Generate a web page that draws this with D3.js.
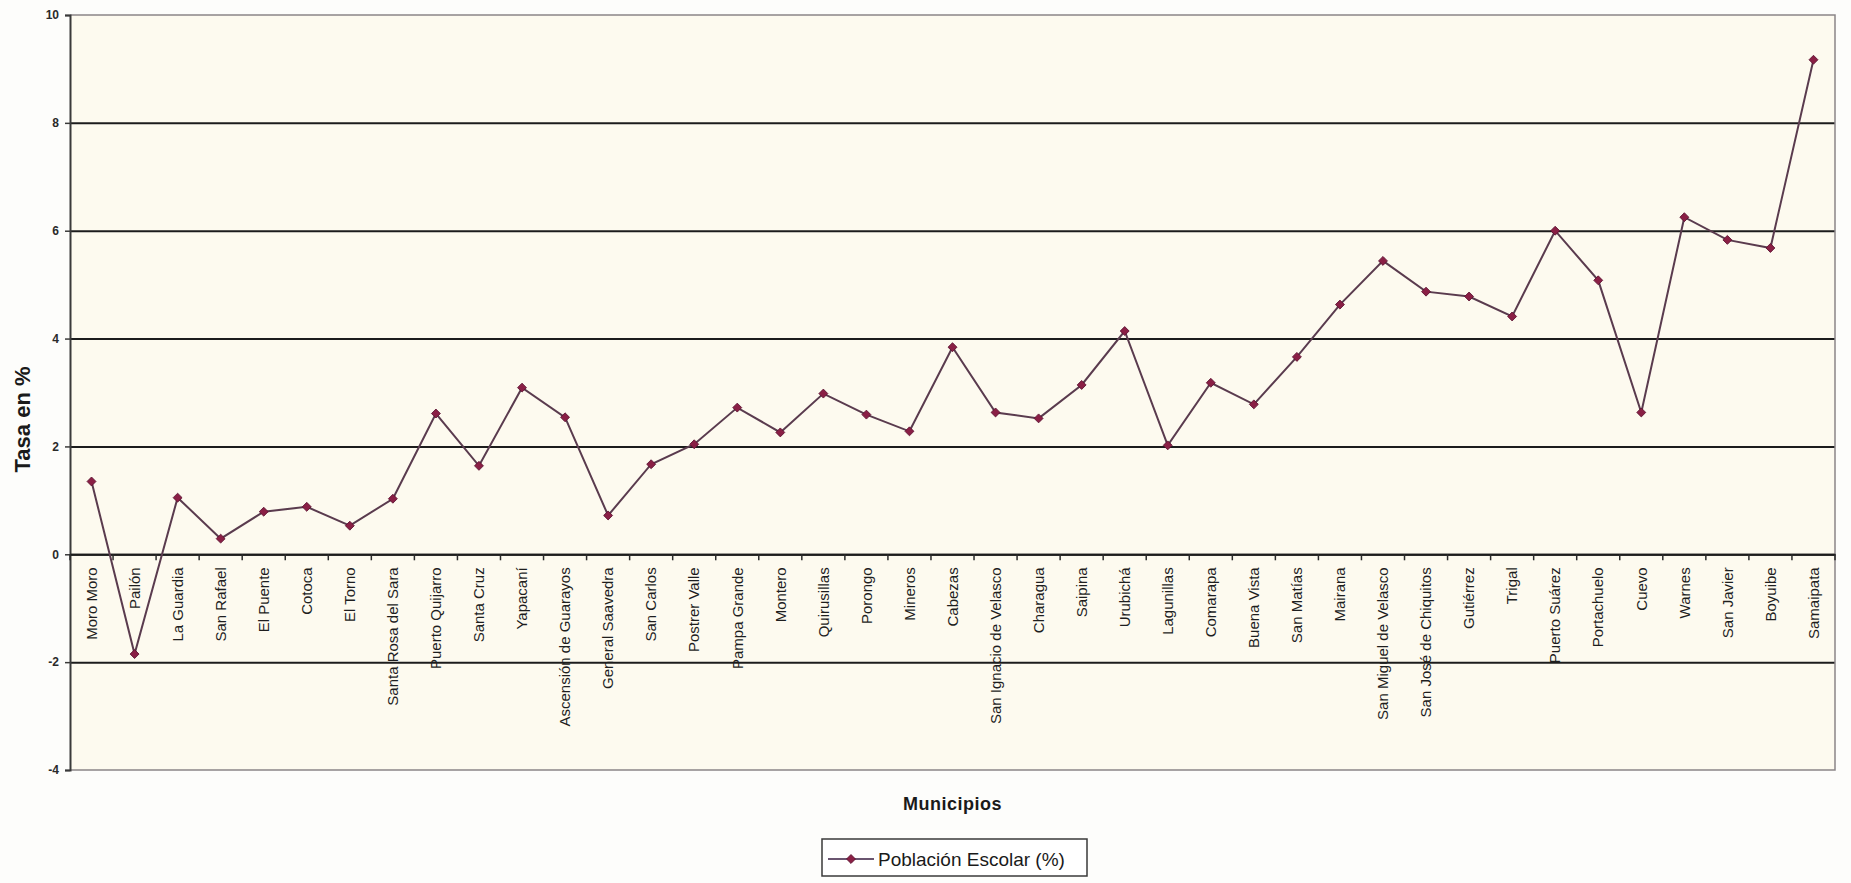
<!DOCTYPE html>
<html>
<head>
<meta charset="utf-8">
<script src="https://cdn.jsdelivr.net/npm/d3@7"></script>
<style>
  html, body { margin: 0; padding: 0; background: #fdfdfb; }
  svg { display: block; }
  text { font-family: "Liberation Sans", Arial, sans-serif; }
</style>
</head>
<body>
<svg id="chart" width="1851" height="883"></svg>
<script>
const categories = [
  "Moro Moro", "Pailón", "La Guardia", "San Rafael", "El Puente", "Cotoca", "El Torno",
  "Santa Rosa del Sara", "Puerto Quijarro", "Santa Cruz", "Yapacaní", "Ascensión de Guarayos",
  "General Saavedra", "San Carlos", "Postrer Valle", "Pampa Grande", "Montero", "Quirusillas",
  "Porongo", "Mineros", "Cabezas", "San Ignacio de Velasco", "Charagua", "Saipina", "Urubichá",
  "Lagunillas", "Comarapa", "Buena Vista", "San Matías", "Mairana", "San Miguel de Velasco",
  "San José de Chiquitos", "Gutiérrez", "Trigal", "Puerto Suárez", "Portachuelo", "Cuevo",
  "Warnes", "San Javier", "Boyuibe", "Samaipata"
];
const seriesName = "Población Escolar (%)";
const values = [
  1.35, -1.85, 1.05, 0.29, 0.79, 0.88, 0.53,
  1.03, 2.61, 1.64, 3.09, 2.54,
  0.72, 1.67, 2.04, 2.72, 2.26, 2.98,
  2.59, 2.28, 3.84, 2.63, 2.52, 3.14, 4.14,
  2.02, 3.18, 2.78, 3.66, 4.63, 5.44,
  4.87, 4.78, 4.41, 6.0, 5.08, 2.63,
  6.25, 5.83, 5.68, 9.17
];
const yTicks = [-4, -2, 0, 2, 4, 6, 8, 10];
const yTitle = "Tasa en %";
const xTitle = "Municipios";

const svg = d3.select("#chart");
const M = { left: 70, right: 1835, top: 15, bottom: 770 };

const x = d3.scaleBand().domain(categories).range([M.left, M.right]).paddingInner(0).paddingOuter(0);
const y = d3.scaleLinear().domain([-4, 10]).range([M.bottom, M.top]);
const bw = x.bandwidth();

// plot background
svg.append("rect")
  .attr("x", M.left).attr("y", M.top)
  .attr("width", M.right - M.left).attr("height", M.bottom - M.top)
  .attr("fill", "#fdfaef");

// gridlines
const grid = svg.append("g")
  .attr("transform", `translate(${M.left},0)`)
  .call(d3.axisRight(y).tickValues(yTicks.filter(t => t > -4 && t < 10)).tickSize(M.right - M.left).tickFormat(""));
grid.select(".domain").remove();
grid.selectAll(".tick line").attr("stroke", "#1c1c1c").attr("stroke-width", 2);

// plot border (top, right, bottom)
svg.append("path")
  .attr("d", `M${M.left},${M.top}H${M.right}V${M.bottom}H${M.left}`)
  .attr("fill", "none").attr("stroke", "#8a8588").attr("stroke-width", 1.5);

// y axis
const yAxis = svg.append("g")
  .attr("transform", `translate(${M.left},0)`)
  .call(d3.axisLeft(y).tickValues(yTicks).tickSize(5).tickPadding(6).tickFormat(d => String(d)));
yAxis.select(".domain").attr("stroke", "#3a3a3a").attr("stroke-width", 2);
yAxis.selectAll(".tick line").attr("stroke", "#3a3a3a").attr("stroke-width", 1.5);
yAxis.selectAll(".tick text")
  .attr("font-size", 12).attr("fill", "#2a2a2a").attr("font-weight", "bold");

// x axis at zero
const xAxis = svg.append("g")
  .attr("transform", `translate(0,${y(0)})`)
  .call(d3.axisBottom(x).tickSize(0).tickPadding(0));
xAxis.select(".domain").attr("stroke", "#1c1c1c").attr("stroke-width", 2);
xAxis.selectAll(".tick text")
  .attr("transform", "rotate(-90)")
  .attr("text-anchor", "end")
  .attr("x", -13).attr("y", 0).attr("dy", "0.35em")
  .attr("font-size", 15).attr("fill", "#1e1e1e");

// category boundary tick marks
const bounds = categories.map(c => x(c)).concat([x(categories[categories.length - 1]) + bw]);
svg.append("g").selectAll("line").data(bounds).join("line")
  .attr("x1", d => d).attr("x2", d => d)
  .attr("y1", y(0)).attr("y2", y(0) + 6)
  .attr("stroke", "#2a2a2a").attr("stroke-width", 1.5);

// series line
const pts = categories.map((c, i) => ({ c, v: values[i] }));
const line = d3.line().x(d => x(d.c) + bw / 2).y(d => y(d.v));
svg.append("path").datum(pts)
  .attr("d", line)
  .attr("fill", "none").attr("stroke", "#5a3b4e").attr("stroke-width", 2);

// markers
const sym = d3.symbol().type(d3.symbolSquare).size(40);
svg.append("g").selectAll("path").data(pts).join("path")
  .attr("d", sym)
  .attr("transform", d => `translate(${x(d.c) + bw / 2},${y(d.v)}) rotate(45)`)
  .attr("fill", "#8a1f45").attr("stroke", "#5a1030").attr("stroke-width", 0.8);

// axis titles
svg.append("text")
  .attr("transform", `translate(30,${y(2.5)}) rotate(-90)`)
  .attr("text-anchor", "middle")
  .attr("font-size", 22).attr("font-weight", "bold").attr("fill", "#1a1a1a")
  .text(yTitle);

svg.append("text")
  .attr("x", (M.left + M.right) / 2 + 0).attr("y", 810)
  .attr("text-anchor", "middle")
  .attr("font-size", 18).attr("font-weight", "bold").attr("fill", "#1a1a1a")
  .attr("letter-spacing", 0.5)
  .text(xTitle);

// legend
const lg = svg.append("g").attr("transform", "translate(822,839)");
lg.append("rect").attr("width", 265).attr("height", 37)
  .attr("fill", "#ffffff").attr("stroke", "#3a3a3a").attr("stroke-width", 1.5);
lg.append("line").attr("x1", 6).attr("x2", 52).attr("y1", 20).attr("y2", 20)
  .attr("stroke", "#6a5570").attr("stroke-width", 2);
lg.append("path").attr("d", sym)
  .attr("transform", "translate(29,20) rotate(45)")
  .attr("fill", "#8a1f45").attr("stroke", "#5a1030").attr("stroke-width", 0.8);
lg.append("text").attr("x", 56).attr("y", 27)
  .attr("font-size", 19).attr("fill", "#1a1a1a")
  .text(seriesName);
</script>
</body>
</html>
